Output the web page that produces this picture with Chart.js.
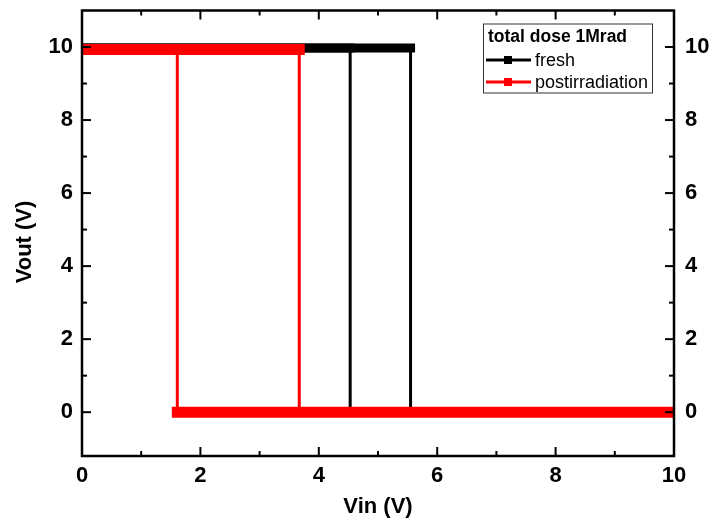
<!DOCTYPE html>
<html>
<head>
<meta charset="utf-8">
<script src="https://cdn.jsdelivr.net/npm/chart.js@4/dist/chart.umd.min.js"></script>
<style>
  html, body { margin: 0; padding: 0; background: #fff; }
  #wrap { width: 712px; height: 524px; }
</style>
</head>
<body>
<div id="wrap"><canvas id="c" width="712" height="524"></canvas></div>
<script>
const FONT = '"Liberation Sans", Arial, Helvetica, sans-serif';

// Transfer curves: up-sweep of Vin, then down-sweep (hysteresis loop)
const freshVin  = [0, 5.55, 5.55, 10, 4.53, 4.53, 0];
const freshVout = [9.97, 9.97, 0.02, 0.02, 0.02, 9.97, 9.97];
const postVin   = [0, 3.67, 3.67, 10, 1.61, 1.61, 0];
const postVout  = [9.93, 9.93, 0, 0, 0, 9.93, 9.93];

const seriesNames = ['fresh', 'postirradiation'];
const legendTitle = 'total dose 1Mrad';
const xTicks = [0, 2, 4, 6, 8, 10];
const yTicks = [0, 2, 4, 6, 8, 10];
const xMinor = [1, 3, 5, 7, 9];
const yMinor = [1, 3, 5, 7, 9];

const toPoints = (xs, ys) => xs.map((x, i) => ({ x, y: ys[i] }));

// Flat runs are drawn as the wide marker band, switching edges as thin lines
const flat = c => Math.abs(c.p0.y - c.p1.y) < 0.5;
function sweepSegment(bandWidth) {
  return {
    borderWidth: c => flat(c) ? bandWidth : 3,
    borderCapStyle: c => flat(c) ? 'square' : 'butt'
  };
}

// keep the plot box fixed: no extra room for overhanging tick labels
const noPad = s => { s.paddingTop = 0; s.paddingBottom = 0; s.paddingLeft = 0; s.paddingRight = 0; };

const frameAndLegend = {
  id: 'frameAndLegend',
  afterDatasetsDraw(chart) {
    const { ctx, chartArea: a, scales } = chart;
    const xs = scales.x, ys = scales.y;
    ctx.save();
    // inward tick marks on all four sides
    ctx.strokeStyle = '#000';
    ctx.lineWidth = 2;
    ctx.lineCap = 'butt';
    const tick = (x1, y1, x2, y2) => { ctx.beginPath(); ctx.moveTo(x1, y1); ctx.lineTo(x2, y2); ctx.stroke(); };
    xTicks.forEach(v => { const p = xs.getPixelForValue(v); tick(p, a.bottom, p, a.bottom - 9); tick(p, a.top, p, a.top + 9); });
    xMinor.forEach(v => { const p = xs.getPixelForValue(v); tick(p, a.bottom, p, a.bottom - 5); tick(p, a.top, p, a.top + 5); });
    yTicks.forEach(v => { const p = ys.getPixelForValue(v); tick(a.left, p, a.left + 9, p); tick(a.right, p, a.right - 9, p); });
    yMinor.forEach(v => { const p = ys.getPixelForValue(v); tick(a.left, p, a.left + 5, p); tick(a.right, p, a.right - 5, p); });
    // frame
    ctx.lineWidth = 2.5;
    ctx.strokeRect(a.left, a.top, a.right - a.left, a.bottom - a.top);

    // axis titles
    ctx.fillStyle = '#000';
    ctx.font = 'bold 22px ' + FONT;
    ctx.textAlign = 'center';
    ctx.textBaseline = 'middle';
    ctx.fillText('Vin (V)', (a.left + a.right) / 2, 507);
    ctx.save();
    ctx.translate(25, 242);
    ctx.rotate(-Math.PI / 2);
    ctx.fillText('Vout (V)', 0, 0);
    ctx.restore();

    // legend box
    const bx = 483, by = 23.5, bw = 169, bh = 69;
    ctx.fillStyle = '#fff';
    ctx.fillRect(bx, by, bw, bh);
    ctx.strokeStyle = '#333';
    ctx.lineWidth = 1;
    ctx.strokeRect(bx + 0.5, by + 0.5, bw, bh);
    ctx.fillStyle = '#000';
    ctx.textAlign = 'left';
    ctx.font = 'bold 17.5px ' + FONT;
    ctx.fillText(legendTitle, 488, 37);
    const rows = [60, 82];
    chart.data.datasets.forEach((ds, i) => {
      const yy = rows[i];
      ctx.strokeStyle = ds.borderColor;
      ctx.lineWidth = 3;
      tick(486, yy, 531, yy);
      ctx.fillStyle = ds.borderColor;
      ctx.fillRect(504, yy - 4, 8, 8);
      ctx.fillStyle = '#000';
      ctx.font = '18px ' + FONT;
      ctx.fillText(seriesNames[i], 535, yy + 1);
    });
    ctx.restore();
  }
};

const tickFont = { family: FONT, size: 22, weight: 'bold' };

new Chart(document.getElementById('c'), {
  type: 'line',
  data: {
    datasets: [
      {
        label: seriesNames[0],
        data: toPoints(freshVin, freshVout),
        borderColor: '#000000',
        backgroundColor: '#000000',
        borderWidth: 9,
        pointRadius: 0,
        fill: false,
        clip: 0,
        order: 1,
        segment: sweepSegment(9)
      },
      {
        label: seriesNames[1],
        data: toPoints(postVin, postVout),
        borderColor: '#ff0000',
        backgroundColor: '#ff0000',
        borderWidth: 11,
        pointRadius: 0,
        fill: false,
        clip: 0,
        order: 0,
        segment: sweepSegment(11)
      }
    ]
  },
  options: {
    responsive: false,
    animation: false,
    devicePixelRatio: 1,
    layout: { padding: { top: 10.5, left: 0, right: 0, bottom: 0 } },
    plugins: { legend: { display: false }, tooltip: { enabled: false } },
    scales: {
      x: {
        type: 'linear', position: 'bottom', min: 0, max: 10,
        grid: { display: false, drawTicks: false },
        border: { display: false },
        afterBuildTicks: s => { s.ticks = xTicks.map(v => ({ value: v })); },
        afterFit: s => { s.height = 68; noPad(s); },
        ticks: { font: tickFont, color: '#000', padding: 7, maxRotation: 0 }
      },
      y: {
        type: 'linear', position: 'left', min: -1.2, max: 11,
        grid: { display: false, drawTicks: false },
        border: { display: false },
        afterBuildTicks: s => { s.ticks = yTicks.map(v => ({ value: v })); },
        afterFit: s => { s.width = 82; noPad(s); },
        ticks: { font: tickFont, color: '#000', padding: 9 }
      },
      y2: {
        type: 'linear', position: 'right', min: -1.2, max: 11,
        grid: { display: false, drawTicks: false },
        border: { display: false },
        afterBuildTicks: s => { s.ticks = yTicks.map(v => ({ value: v })); },
        afterFit: s => { s.width = 38; noPad(s); },
        ticks: { font: tickFont, color: '#000', padding: 11 }
      }
    }
  },
  plugins: [frameAndLegend]
});
</script>
</body>
</html>
